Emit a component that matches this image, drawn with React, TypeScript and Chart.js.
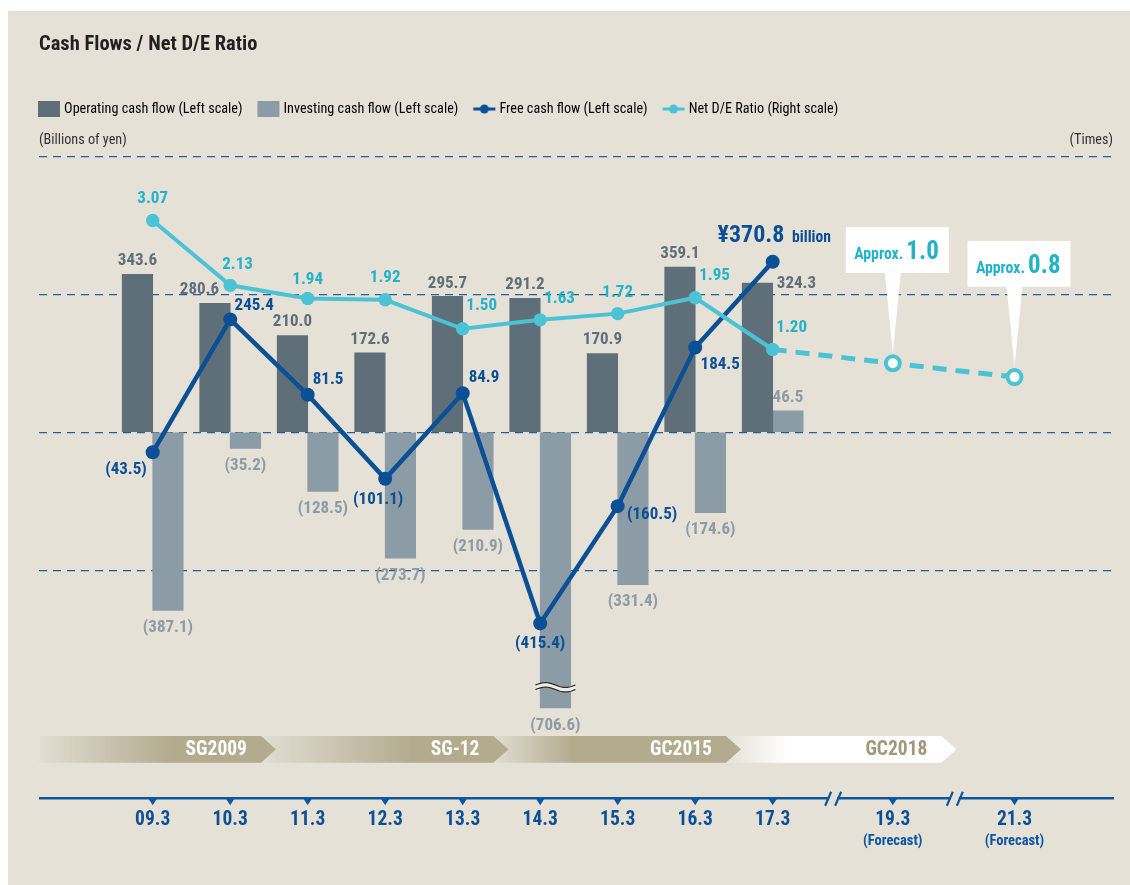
import React, { useEffect, useRef } from 'react';
import { Chart, registerables } from 'chart.js';

Chart.register(...registerables);

// ---------------- data ----------------
const categories = ['09.3', '10.3', '11.3', '12.3', '13.3', '14.3', '15.3', '16.3', '17.3'];
const forecastCategories = ['19.3', '21.3'];
const operatingCF = [343.6, 280.6, 210.0, 172.6, 295.7, 291.2, 170.9, 359.1, 324.3];
const investingCF = [-387.1, -35.2, -128.5, -273.7, -210.9, -706.6, -331.4, -174.6, 46.5];
const freeCF = [-43.5, 245.4, 81.5, -101.1, 84.9, -415.4, -160.5, 184.5, 370.8];
const netDERatio = [3.07, 2.13, 1.94, 1.92, 1.5, 1.63, 1.72, 1.95, 1.2];
const netDEForecast = [1.0, 0.8];
const phaseNames = ['SG2009', 'SG-12', 'GC2015', 'GC2018'];
const seriesNames = [
  'Operating cash flow (Left scale)',
  'Investing cash flow (Left scale)',
  'Free cash flow (Left scale)',
  'Net D/E Ratio (Right scale)',
];

// ---------------- broken time axis layout (slot index of each label) ----------------
const actualSlots = categories.map((_, i) => i);
const forecastSlots = [9.55, 11.12];
const axisBreakSlots = [8.78, 10.35];
const phaseEndSlots = [1.5, 4.5, 7.5, 10.28];
const phaseFade = [0.59, 0.65, 0.34, 0.29];

// label nudges [dx, dy] in px from the mark
const opNudge = [[0, -13.5], [-15.5, -13], [0, -13.5], [0, -13.5], [0, -13], [0, -14], [0, -14], [0, -13.5], [39, 0.5]];
const fcfNudge = [[-26.7, 17], [24, -13.3], [20.4, -15], [-7, 20.5], [21.3, -15], [0, 20], [34.4, 9], [25, 17.3], [0, 0]];
const deNudge = [[0, -21.4], [7.3, -20.7], [0, -19], [0, -21.7], [19, -22.6], [19.3, -21], [0, -20.7], [19.3, -21.7], [19, -21.7]];

// ---------------- style ----------------
const FONT = "'Roboto Condensed', Roboto, sans-serif";
const BG = '#e5e1d7';
const C_OP = '#5f6f7a';
const C_INV = '#8c9ca6';
const C_FCF = '#0b4f95';
const C_DE = '#4cc2d5';
const C_DE_TEXT = '#22b3ca';
const C_GRID = '#1f5fa3';
const C_AXIS = '#0d56a0';
const C_TAN = '#b2ab8e';
const C_TEXT = '#333333';

const valueText = (v: number) => (v < 0 ? `(${Math.abs(v).toFixed(1)})` : v.toFixed(1));

function drawText(ctx: any, s: string, x: number, y: number, font: string, color: string, align = 'center') {
  ctx.font = font;
  ctx.fillStyle = color;
  ctx.textAlign = align;
  ctx.textBaseline = 'middle';
  ctx.fillText(s, x, y);
}

function drawWave(ctx: any, cx: number, cy: number) {
  const w = 40, amp = 2.4, gap = 4.5;
  const yAt = (t: number, off: number) => cy + off - amp * Math.sin((t / w) * Math.PI * 2);
  ctx.beginPath();
  for (let t = 0; t <= w; t++) {
    const px = cx - w / 2 + t;
    if (t === 0) ctx.moveTo(px, yAt(t, -gap / 2));
    else ctx.lineTo(px, yAt(t, -gap / 2));
  }
  for (let t = w; t >= 0; t--) ctx.lineTo(cx - w / 2 + t, yAt(t, gap / 2));
  ctx.closePath();
  ctx.fillStyle = '#efece6';
  ctx.fill();
  ctx.strokeStyle = '#2b2b2b';
  ctx.lineWidth = 1.2;
  [-gap / 2, gap / 2].forEach((off) => {
    ctx.beginPath();
    for (let t = 0; t <= w; t++) {
      const px = cx - w / 2 + t;
      if (t === 0) ctx.moveTo(px, yAt(t, off));
      else ctx.lineTo(px, yAt(t, off));
    }
    ctx.stroke();
  });
}

const decor = {
  id: 'decor',
  afterDatasetsDraw(chart: any) {
    const { ctx, chartArea: ca } = chart;
    const opMeta = chart.getDatasetMeta(0);
    const invMeta = chart.getDatasetMeta(1);
    const fcfMeta = chart.getDatasetMeta(2);
    const deMeta = chart.getDatasetMeta(3);
    const fcMeta = chart.getDatasetMeta(4);
    ctx.save();
    invMeta.data.forEach((el: any) => {
      if (el.y > ca.bottom + 0.5) drawWave(ctx, el.x, ca.bottom - 21);
    });
    const lblFont = `bold 17px ${FONT}`;
    operatingCF.forEach((v, i) => {
      const el = opMeta.data[i];
      const [dx, dy] = opNudge[i];
      drawText(ctx, valueText(v), el.x + dx, el.y + dy, lblFont, C_OP);
    });
    investingCF.forEach((v, i) => {
      const el = invMeta.data[i];
      const y = v < 0 ? Math.min(el.y, ca.bottom) + 17.5 : el.y - 13.5;
      drawText(ctx, valueText(v), el.x, y, lblFont, C_INV);
    });
    freeCF.forEach((v, i) => {
      const el = fcfMeta.data[i];
      if (i === freeCF.length - 1) {
        ctx.fillStyle = C_FCF;
        ctx.textBaseline = 'alphabetic';
        ctx.textAlign = 'right';
        ctx.font = `bold 24px ${FONT}`;
        ctx.fillText(`¥${v.toFixed(1)}`, el.x + 11.7, el.y - 19.3);
        ctx.textAlign = 'left';
        ctx.font = `bold 15.6px ${FONT}`;
        ctx.fillText('billion', el.x + 19.4, el.y - 19.3);
      } else {
        const [dx, dy] = fcfNudge[i];
        drawText(ctx, valueText(v), el.x + dx, el.y + dy, lblFont, C_FCF);
      }
    });
    netDERatio.forEach((v, i) => {
      const el = deMeta.data[i];
      const [dx, dy] = deNudge[i];
      drawText(ctx, v.toFixed(2), el.x + dx, el.y + dy, lblFont, C_DE_TEXT);
    });
    netDEForecast.forEach((v, k) => {
      const el = fcMeta.data[k + 1];
      const px = el.x, py = el.y;
      const bl = px - 47, br = px + 56, bt = py - 136.2, bb = py - 90.3;
      ctx.fillStyle = '#ffffff';
      ctx.fillRect(bl, bt, br - bl, bb - bt);
      ctx.beginPath();
      ctx.moveTo(px - 8, bb - 1);
      ctx.lineTo(px + 8, bb - 1);
      ctx.lineTo(px, py - 9.5);
      ctx.closePath();
      ctx.fill();
      ctx.fillStyle = C_DE_TEXT;
      ctx.textAlign = 'left';
      ctx.textBaseline = 'alphabetic';
      ctx.font = `bold 15.8px ${FONT}`;
      ctx.fillText('Approx.', bl + 8.4, bt + 31.6);
      const w = ctx.measureText('Approx.').width;
      ctx.font = `bold 25px ${FONT}`;
      ctx.fillText(v.toFixed(1), bl + 8.4 + w + 3, bt + 31.6);
    });
    ctx.restore();
  },
  afterDraw(chart: any) {
    const { ctx, chartArea: ca } = chart;
    const x = chart.scales.x;
    ctx.save();
    // unit label on the right
    drawText(ctx, '(Times)', ca.right - 1, ca.top - 16.3, `14.2px ${FONT}`, C_TEXT, 'right');

    // phase banners
    const bTop = ca.bottom + 27.7, bH = 26.7;
    const tips = phaseEndSlots.map((s) => x.getPixelForValue(s) + 7);
    for (let k = phaseNames.length - 1; k >= 0; k--) {
      const tip = tips[k];
      const end = tip - 15;
      const start = k === 0 ? ca.left : tips[k - 1] - 15;
      const last = k === phaseNames.length - 1;
      const g = ctx.createLinearGradient(start, 0, start + (end - start) * phaseFade[k], 0);
      g.addColorStop(0, last ? 'rgba(255,255,255,0)' : 'rgba(178,171,142,0.06)');
      g.addColorStop(1, last ? '#ffffff' : C_TAN);
      ctx.fillStyle = g;
      ctx.beginPath();
      ctx.moveTo(start, bTop);
      ctx.lineTo(end, bTop);
      ctx.lineTo(tip, bTop + bH / 2);
      ctx.lineTo(end, bTop + bH);
      ctx.lineTo(start, bTop + bH);
      ctx.closePath();
      ctx.fill();
      drawText(ctx, phaseNames[k], end - 14, bTop + bH / 2 + 0.5, `bold 19.5px ${FONT}`, last ? '#a0987a' : '#ffffff', 'right');
    }

    // time axis line
    const ay = ca.bottom + 90;
    ctx.strokeStyle = C_AXIS;
    ctx.lineWidth = 2.6;
    ctx.beginPath();
    ctx.moveTo(ca.left, ay);
    ctx.lineTo(ca.right, ay);
    ctx.stroke();
    // tick triangles
    ctx.fillStyle = C_AXIS;
    [...actualSlots, ...forecastSlots].forEach((s) => {
      const px = x.getPixelForValue(s);
      ctx.beginPath();
      ctx.moveTo(px - 4.5, ay);
      ctx.lineTo(px + 4.5, ay);
      ctx.lineTo(px, ay + 7);
      ctx.closePath();
      ctx.fill();
    });
    // breaks
    axisBreakSlots.forEach((s) => {
      const bx = x.getPixelForValue(s);
      ctx.fillStyle = BG;
      ctx.fillRect(bx - 4, ay - 2, 8, 4);
      ctx.strokeStyle = C_AXIS;
      ctx.lineWidth = 2.2;
      ctx.beginPath();
      ctx.moveTo(bx - 8, ay + 7.5);
      ctx.lineTo(bx - 2, ay - 6.5);
      ctx.moveTo(bx + 2, ay + 7.5);
      ctx.lineTo(bx + 8, ay - 6.5);
      ctx.stroke();
    });
    // forecast sub-labels
    forecastSlots.forEach((s) => {
      drawText(ctx, '(Forecast)', x.getPixelForValue(s), ca.bottom + 133.4, `bold 14.5px ${FONT}`, C_AXIS);
    });
    ctx.restore();
  },
};

function makeIcon(kind: string, color: string) {
  const c = document.createElement('canvas');
  c.width = 28;
  c.height = 16;
  const g = c.getContext('2d') as CanvasRenderingContext2D;
  g.fillStyle = color;
  g.strokeStyle = color;
  if (kind === 'box') {
    g.fillRect(4, 0, 22, 16);
  } else {
    g.lineWidth = 3;
    g.beginPath();
    g.moveTo(4, 8);
    g.lineTo(26, 8);
    g.stroke();
    g.beginPath();
    g.arc(15, 8, 4.5, 0, Math.PI * 2);
    g.fill();
  }
  return c;
}

export default function App() {
  const ref = useRef<HTMLCanvasElement>(null);
  useEffect(() => {
    const canvas = ref.current as HTMLCanvasElement;
    const icons = [
      makeIcon('box', C_OP),
      makeIcon('box', C_INV),
      makeIcon('line', C_FCF),
      makeIcon('line', C_DE),
    ];
    const allSlots = [...actualSlots, ...forecastSlots];
    const allLabels = [...categories, ...forecastCategories];
    const tickFont = { family: FONT, size: 14 };

    const chart = new Chart(canvas, {
      type: 'bar',
      data: {
        datasets: [
          {
            type: 'bar',
            label: seriesNames[0],
            data: operatingCF.map((v, i) => ({ x: actualSlots[i], y: v })),
            backgroundColor: C_OP,
            borderWidth: 0,
            barThickness: 30.5,
            yAxisID: 'y',
            order: 10,
          },
          {
            type: 'bar',
            label: seriesNames[1],
            data: investingCF.map((v, i) => ({ x: actualSlots[i], y: v })),
            backgroundColor: C_INV,
            borderWidth: 0,
            barThickness: 30.5,
            yAxisID: 'y',
            order: 10,
          },
          {
            type: 'line',
            label: seriesNames[2],
            data: freeCF.map((v, i) => ({ x: actualSlots[i], y: v })),
            borderColor: C_FCF,
            backgroundColor: C_FCF,
            borderWidth: 4.5,
            pointRadius: 7,
            pointBackgroundColor: C_FCF,
            pointBorderWidth: 0,
            tension: 0,
            yAxisID: 'y',
            order: 3,
          },
          {
            type: 'line',
            label: seriesNames[3],
            data: netDERatio.map((v, i) => ({ x: actualSlots[i], y: v })),
            borderColor: C_DE,
            backgroundColor: C_DE,
            borderWidth: 4,
            pointRadius: 6.7,
            pointBackgroundColor: C_DE,
            pointBorderWidth: 0,
            tension: 0,
            yAxisID: 'y1',
            order: 1,
          },
          {
            type: 'line',
            label: 'Net D/E Ratio forecast',
            data: [
              { x: actualSlots[actualSlots.length - 1], y: netDERatio[netDERatio.length - 1] },
              ...netDEForecast.map((v, i) => ({ x: forecastSlots[i], y: v })),
            ],
            borderColor: C_DE,
            borderWidth: 5,
            borderDash: [14, 9],
            pointRadius: [0, 7, 7],
            pointBackgroundColor: '#ffffff',
            pointBorderColor: C_DE,
            pointBorderWidth: 4,
            tension: 0,
            yAxisID: 'y1',
            order: 2,
          },
        ],
      } as any,
      options: {
        responsive: false,
        animation: false,
        events: [],
        layout: { padding: { left: 15, right: 0, top: 0, bottom: 0 } },
        plugins: {
          tooltip: { enabled: false },
          title: {
            display: true,
            text: 'Cash Flows / Net D/E Ratio',
            align: 'start',
            fullSize: false,
            color: '#231f20',
            font: { family: FONT, size: 20.5, weight: 'bold' },
            padding: { top: 21.7, bottom: 28.6 },
          },
          legend: {
            display: true,
            position: 'top',
            align: 'start',
            fullSize: true,
            labels: {
              usePointStyle: true,
              pointStyleWidth: 18,
              padding: 16,
              color: C_TEXT,
              font: { family: FONT, size: 14.2 },
              generateLabels: () =>
                seriesNames.map((t, i) => ({
                  text: t,
                  pointStyle: icons[i],
                  fillStyle: 'rgba(0,0,0,0)',
                  strokeStyle: 'rgba(0,0,0,0)',
                  lineWidth: 0,
                  hidden: false,
                  datasetIndex: i,
                })),
            },
          },
          subtitle: {
            display: true,
            text: '(Billions of yen)',
            align: 'start',
            position: 'top',
            fullSize: false,
            weight: 500,
            color: C_TEXT,
            font: { family: FONT, size: 14.2 },
            padding: { top: 5.38, bottom: 7.78 },
          },
        },
        scales: {
          x: {
            type: 'linear',
            min: -1.4671,
            max: 12.4039,
            offset: false,
            grid: { display: false, drawTicks: false },
            border: { display: false },
            afterBuildTicks: (s: any) => {
              s.ticks = allSlots.map((v) => ({ value: v }));
            },
            afterFit: (s: any) => {
              s.height = 176.7;
              s.paddingLeft = 0;
              s.paddingRight = 0;
            },
            ticks: {
              autoSkip: false,
              maxRotation: 0,
              minRotation: 0,
              padding: 100,
              color: C_FCF,
              font: { family: FONT, size: 19.5, weight: 'bold' },
              callback: (_v: any, i: number) => allLabels[i],
            },
          },
          y: {
            position: 'left',
            min: -600,
            max: 600,
            ticks: {
              stepSize: 300,
              padding: -60,
              labelOffset: 12.5,
              color: C_TEXT,
              font: tickFont,
              callback: (v: any) => (v === -600 ? '' : v < 0 ? '\u2013' + Math.abs(v) : String(v)),
            },
            grid: {
              drawTicks: false,
              lineWidth: 1.3,
              color: (c: any) => (c.tick && c.tick.value === -600 ? 'rgba(0,0,0,0)' : C_GRID),
            },
            border: { display: false, dash: [8, 6] },
            afterFit: (s: any) => {
              s.width = 16;
              s.paddingTop = 0;
              s.paddingBottom = 0;
            },
          },
          y1: {
            position: 'right',
            min: -4,
            max: 4,
            ticks: {
              stepSize: 2,
              padding: -54,
              labelOffset: 12.5,
              color: C_TEXT,
              font: tickFont,
              callback: (v: any) => (v < 0 ? '' : v === 0 ? '0' : Number(v).toFixed(2)),
            },
            grid: { display: false, drawTicks: false },
            border: { display: false },
            afterFit: (s: any) => {
              s.width = 16;
              s.paddingTop = 0;
              s.paddingBottom = 0;
            },
          },
        },
      } as any,
      plugins: [decor],
    });
    return () => chart.destroy();
  }, []);

  return (
    <div style={{ position: 'fixed', left: 8, top: 11, width: 1122, height: 874, background: BG }}>
      <canvas ref={ref} width={1122} height={874} style={{ display: 'block', width: 1122, height: 874 }} />
    </div>
  );
}
